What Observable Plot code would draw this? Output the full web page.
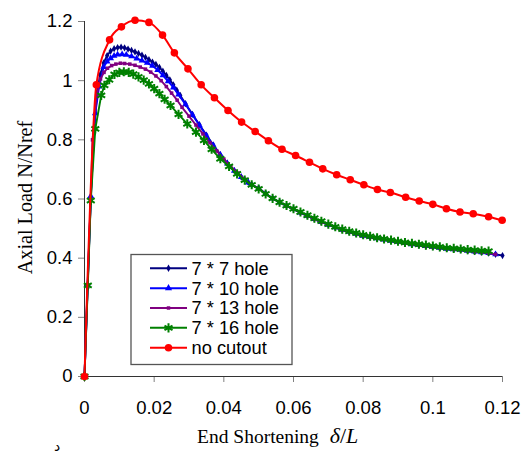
<!DOCTYPE html>
<html><head><meta charset="utf-8">
<script src="https://cdn.jsdelivr.net/npm/d3@7"></script>
<script src="https://cdn.jsdelivr.net/npm/@observablehq/plot@0.6"></script>
<style>body{margin:0;background:#fff}#wrap{width:528px;height:456px}</style>
</head><body><div id="wrap"></div>
<script>
const xTicks = [0, 0.02, 0.04, 0.06, 0.08, 0.1, 0.12];
const yTicks = [0, 0.2, 0.4, 0.6, 0.8, 1, 1.2];
const seriesNames = ["7 * 7 hole", "7 * 10 hole", "7 * 13 hole", "7 * 16 hole", "no cutout"];

// rising / peak parts
const navyX = [0,0.0009,0.0018,0.0027,0.0036,0.0045,0.0055,0.0065,0.0075,0.0085,0.0095,0.0105,0.0115,0.0125,0.0135,0.0145,0.0155,0.0165,0.0175,0.0185,0.0195,0.0205,0.0215,0.0225,0.0235,0.0245,0.0255,0.0265,0.0275,0.029,0.031,0.033,0.035,0.037,0.039,0.041,0.043,0.045,0.047,0.048];
const navyY = [0,0.30,0.60,0.82,0.96,1.02,1.06,1.085,1.10,1.108,1.112,1.113,1.111,1.107,1.102,1.097,1.092,1.086,1.079,1.071,1.063,1.055,1.045,1.032,1.018,1.003,0.986,0.968,0.950,0.922,0.886,0.851,0.816,0.782,0.750,0.721,0.696,0.674,0.656,0.648];
const blueX = [0,0.0009,0.0018,0.0031,0.0042,0.0055,0.0065,0.0075,0.0085,0.0095,0.0108,0.012,0.0135,0.015,0.0165,0.018,0.0195,0.021,0.0225,0.024,0.0255,0.027,0.029,0.031,0.033,0.035,0.037,0.039,0.041,0.043,0.045,0.047,0.048];
const blueY = [0,0.31,0.61,0.89,0.98,1.046,1.065,1.076,1.084,1.088,1.089,1.087,1.082,1.075,1.068,1.060,1.050,1.036,1.018,0.998,0.977,0.953,0.920,0.884,0.849,0.814,0.781,0.749,0.720,0.695,0.674,0.656,0.648];
const purpleX = [0,0.0009,0.0018,0.0023,0.0035,0.0046,0.0056,0.0066,0.0078,0.009,0.0103,0.0115,0.013,0.0145,0.016,0.0175,0.019,0.0205,0.022,0.0235,0.025,0.0266,0.028,0.030,0.032,0.034,0.036,0.038,0.040,0.042,0.044,0.046,0.048];
const purpleY = [0,0.31,0.60,0.80,0.95,1.006,1.028,1.042,1.051,1.056,1.059,1.058,1.056,1.052,1.046,1.039,1.029,1.016,1.000,0.980,0.958,0.934,0.910,0.880,0.850,0.820,0.790,0.762,0.735,0.710,0.688,0.667,0.648];
const greenX = [0,0.00095,0.0018,0.0031,0.0048,0.0057,0.0071,0.0086,0.010,0.0113,0.0127,0.014,0.0155,0.017,0.0185,0.020,0.0215,0.023,0.0247,0.027,0.0295,0.032,0.0343,0.0365,0.039,0.0415,0.0438,0.046,0.048];
const greenY = [0,0.308,0.595,0.837,0.95,0.984,1.003,1.021,1.028,1.030,1.028,1.022,1.013,1.002,0.989,0.973,0.956,0.937,0.916,0.886,0.854,0.826,0.798,0.768,0.736,0.710,0.685,0.664,0.648];

// descending tails
const tailX = [0.050,0.052,0.054,0.056,0.058,0.060,0.062,0.064,0.066,0.068,0.070,0.072,0.074,0.076,0.078,0.080,0.082,0.084,0.086,0.088,0.090,0.092,0.094,0.096,0.098,0.100,0.102,0.104,0.106,0.108,0.110,0.112,0.114,0.116,0.118,0.120];
const holeTailY = [0.636,0.618,0.602,0.589,0.577,0.566,0.554,0.543,0.532,0.522,0.513,0.504,0.496,0.489,0.482,0.476,0.471,0.467,0.463,0.459,0.455,0.451,0.447,0.444,0.441,0.438,0.435,0.432,0.430,0.428,0.425,0.422,0.420,0.417,0.413,0.409];
const greenTailY = [0.634,0.617,0.602,0.589,0.578,0.567,0.556,0.545,0.535,0.525,0.515,0.506,0.498,0.491,0.485,0.479,0.474,0.469,0.465,0.461,0.457,0.453,0.450,0.447,0.444,0.441,0.438,0.435,0.433,0.431,0.429,0.427,0.425,0.424];

const redX = [0,0.0034,0.0072,0.0106,0.0145,0.0185,0.0224,0.0258,0.0297,0.0335,0.0373,0.0412,0.0451,0.0490,0.0528,0.0567,0.0606,0.0646,0.0684,0.0724,0.0763,0.0802,0.0841,0.0878,0.0922,0.0961,0.1000,0.1039,0.1078,0.1116,0.1160,0.1199];
const redY = [0,0.986,1.138,1.182,1.204,1.197,1.154,1.094,1.040,0.986,0.942,0.899,0.860,0.828,0.797,0.768,0.747,0.724,0.702,0.682,0.665,0.648,0.632,0.622,0.606,0.593,0.582,0.567,0.556,0.550,0.540,0.528];

const colors = ["#000080", "#0000ff", "#800080", "#008000", "#ff0000"];

function rowsOf(xs, ys) { return xs.map((x, i) => ({x, y: ys[i]})); }
const data = [
  rowsOf(navyX, navyY).concat(rowsOf(tailX, holeTailY)),
  rowsOf(blueX, blueY).concat(rowsOf(tailX.slice(0, 35), holeTailY.slice(0, 35))),
  rowsOf(purpleX, purpleY).concat(rowsOf(tailX.slice(0, 35), holeTailY.slice(0, 35))),
  rowsOf(greenX, greenY).concat(rowsOf(tailX.slice(0, greenTailY.length), greenTailY)),
  rowsOf(redX, redY)
];

const fmt = d => String(+d.toFixed(2));

const marks = [
  Plot.axisX({ticks: xTicks, tickFormat: fmt, tickSize: 6, tickPadding: 18, stroke: "#808080", label: null}),
  Plot.axisY({ticks: yTicks, tickFormat: fmt, tickSize: 6, tickPadding: 6, stroke: "#808080", label: null}),
  Plot.ruleY([0], {stroke: "#333"}),
  Plot.ruleX([0], {stroke: "#333"}),
  Plot.line(data[0], {x: "x", y: "y", stroke: colors[0], strokeWidth: 1.9}),
  Plot.dot(data[0], {x: "x", y: "y", symbol: "diamond", r: 2.2, fill: colors[0]}),
  Plot.line(data[1], {x: "x", y: "y", stroke: colors[1], strokeWidth: 1.9}),
  Plot.dot(data[1], {x: "x", y: "y", symbol: "triangle", r: 2.5, fill: colors[1]}),
  Plot.line(data[2], {x: "x", y: "y", stroke: colors[2], strokeWidth: 1.9}),
  Plot.dot(data[2], {x: "x", y: "y", symbol: "square", r: 2, fill: colors[2]}),
  Plot.line(data[3], {x: "x", y: "y", stroke: colors[3], strokeWidth: 1.9}),
  Plot.dot(data[3], {x: "x", y: "y", symbol: "asterisk", r: 4.3, stroke: colors[3], strokeWidth: 2}),
  Plot.line(data[4], {x: "x", y: "y", stroke: colors[4], strokeWidth: 2, curve: "monotone-x"}),
  Plot.dot(data[4], {x: "x", y: "y", r: 3.8, fill: colors[4]})
];

const chart = Plot.plot({
  width: 528, height: 456,
  marginLeft: 84, marginRight: 26, marginTop: 21, marginBottom: 80,
  style: {fontFamily: "'Liberation Sans', Arial, sans-serif", fontSize: "18.5px", color: "#000", background: "#fff"},
  x: {domain: [0, 0.12]},
  y: {domain: [0, 1.2]},
  marks
});
document.getElementById("wrap").appendChild(chart);

const svg = d3.select(chart);
// legend
const lg = svg.append("g").attr("text-anchor", "start");
lg.append("rect").attr("x", 131).attr("y", 254.5).attr("width", 161).attr("height", 110)
  .attr("fill", "#fff").attr("stroke", "#555").attr("stroke-width", 1.3);
const symMap = [d3.symbolDiamond, d3.symbolTriangle, d3.symbolSquare, d3.symbolAsterisk, d3.symbolCircle];
const symSize = [16, 22, 12, 60, 45];
seriesNames.forEach((name, i) => {
  const cy = 268.3 + i * 19.85;
  lg.append("line").attr("x1", 150).attr("x2", 187).attr("y1", cy).attr("y2", cy)
    .attr("stroke", colors[i]).attr("stroke-width", 2);
  const p = lg.append("path").attr("transform", `translate(168.5,${cy})`)
    .attr("d", d3.symbol(symMap[i], symSize[i])());
  if (i === 3) p.attr("fill", "none").attr("stroke", colors[i]).attr("stroke-width", 2);
  else p.attr("fill", colors[i]);
  lg.append("text").attr("x", 191.5).attr("y", cy).attr("dy", "0.35em").attr("text-anchor", "start")
    .attr("font-family", "'Liberation Sans', Arial, sans-serif").attr("font-size", 18.3).attr("fill", "#000")
    .text(name);
});
// axis titles
const xt = svg.append("text").attr("x", 197).attr("y", 443).attr("text-anchor", "start")
  .attr("font-family", "'Liberation Serif', 'Times New Roman', serif").attr("font-size", 19.5).attr("fill", "#000");
xt.append("tspan").text("End Shortening ");
xt.append("tspan").attr("dx", 6).attr("font-style", "italic").attr("font-size", 22).text("δ");
xt.append("tspan").attr("font-size", 22).text("/");
xt.append("tspan").attr("font-style", "italic").attr("font-size", 22).text("L");
svg.append("text").attr("transform", "translate(32,197.5) rotate(-90)").attr("text-anchor", "middle")
  .attr("font-family", "'Liberation Serif', 'Times New Roman', serif").attr("font-size", 20.2).attr("fill", "#000")
  .text("Axial Load N/Nref");
svg.append("text").attr("x", 57).attr("y", 451).attr("text-anchor", "middle")
  .attr("font-family", "'DejaVu Sans', sans-serif").attr("font-size", 14).attr("fill", "#000").text("د");
</script></body></html>
